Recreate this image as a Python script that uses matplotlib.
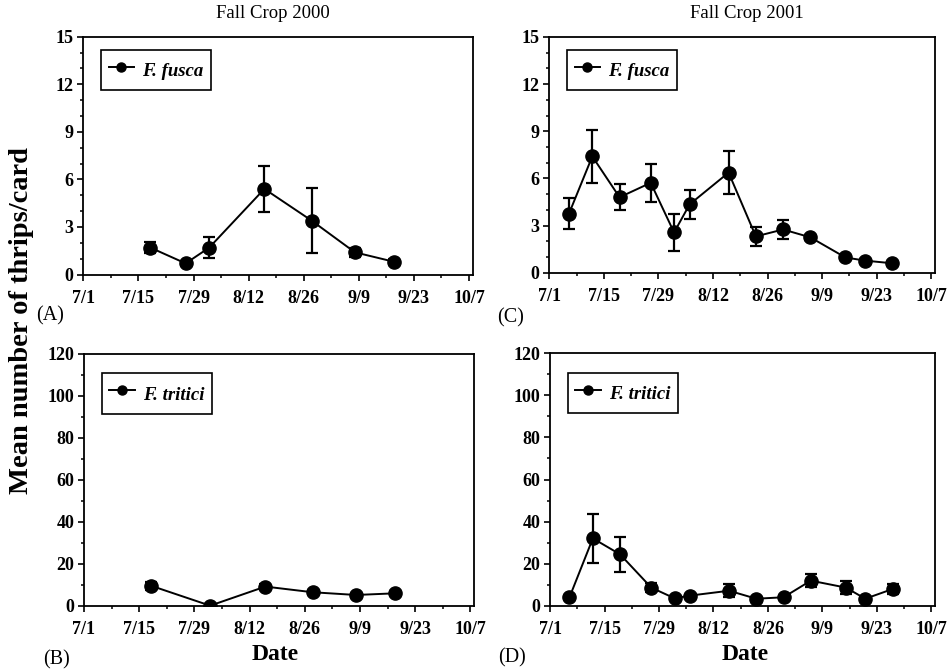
import matplotlib
matplotlib.use("Agg")
import matplotlib.pyplot as plt
import numpy as np
import pandas as pd
from matplotlib.lines import Line2D
from matplotlib.ticker import MultipleLocator

plt.rcParams["font.family"] = ["Liberation Serif", "DejaVu Serif"]

# ---- data ----
dates_2000 = ["7/18", "7/27", "8/2", "8/16", "8/28", "9/8", "9/18"]
fusca_2000 = [1.7, 0.7, 1.7, 5.4, 3.4, 1.4, 0.8]
fusca_2000_se = [0.35, 0.1, 0.65, 1.45, 2.05, 0.3, 0.2]

dates_2000_tr = ["7/18", "8/2", "8/16", "8/28", "9/8", "9/18"]
tritici_2000 = [9.5, 0.0, 9.1, 6.4, 5.1, 5.9]
tritici_2000_se = [2.0, 0.5, 1.0, 1.0, 0.5, 1.0]

dates_2001 = ["7/6", "7/12", "7/19", "7/27", "8/2", "8/6", "8/16",
              "8/23", "8/30", "9/6", "9/15", "9/20", "9/27"]
fusca_2001 = [3.75, 7.4, 4.8, 5.72, 2.56, 4.35, 6.37, 2.31, 2.75, 2.25, 0.97, 0.77, 0.6]
fusca_2001_se = [1.0, 1.68, 0.83, 1.2, 1.18, 0.92, 1.35, 0.6, 0.6, 0.15, 0.1, 0.1, 0.1]
tritici_2001 = [4.0, 32.0, 24.4, 8.6, 3.5, 4.8, 7.1, 3.3, 4.0, 11.9, 8.6, 3.3, 7.9]
tritici_2001_se = [0.5, 11.6, 8.3, 2.0, 0.5, 0.5, 3.0, 0.5, 0.5, 3.0, 3.0, 0.5, 2.5]

tick_labels = ["7/1", "7/15", "7/29", "8/12", "8/26", "9/9", "9/23", "10/7"]


def day_of(labels):
    """Days since 7/1 for 'm/d' strings."""
    d = pd.to_datetime(["2000/" + s for s in labels], format="%Y/%m/%d")
    return (d - pd.Timestamp("2000-07-01")).days.values


def panel(ax, x, y, err, label, ymax, ystep, yminor, leg_y):
    ax.errorbar(x, y, yerr=err, fmt="-o", color="black", lw=1.4, ms=9.5,
                elinewidth=1.6, capsize=4, capthick=1.6)
    ax.set_xlim(0, 99)
    ax.set_ylim(0, ymax)
    ax.set_xticks(np.arange(0, 99, 14))
    ax.set_xticklabels(tick_labels)
    ax.xaxis.set_minor_locator(MultipleLocator(7))
    ax.yaxis.set_major_locator(MultipleLocator(ystep))
    ax.yaxis.set_minor_locator(MultipleLocator(yminor))
    ax.tick_params(which="major", direction="out", length=4, width=1.2,
                   labelsize=13, pad=3)
    ax.tick_params(axis="x", which="major", pad=7)
    ax.tick_params(which="minor", direction="out", length=2.5, width=1.1)
    for lab in ax.get_xticklabels() + ax.get_yticklabels():
        lab.set_fontweight("bold")
    for sp in ax.spines.values():
        sp.set_linewidth(1.3)
    handle = Line2D([], [], color="black", lw=1.4, marker="o", ms=6.5)
    leg = ax.legend([handle], [label], loc="upper left",
                    bbox_to_anchor=(0.046, leg_y), borderaxespad=0,
                    fancybox=False, edgecolor="black", framealpha=1,
                    handlelength=1.35, handleheight=1.7, handletextpad=0.45,
                    borderpad=0.4,
                    prop={"weight": "bold", "style": "italic", "size": 13.5})
    leg.get_frame().set_linewidth(1.2)


fig = plt.figure(figsize=(9.49, 6.72), dpi=100)
axA = fig.add_axes([0.0878, 0.5915, 0.4106, 0.3539])
axC = fig.add_axes([0.5790, 0.5942, 0.4062, 0.3508])
axB = fig.add_axes([0.0885, 0.0987, 0.4113, 0.3746])
axD = fig.add_axes([0.5796, 0.0987, 0.4060, 0.3755])

panel(axA, day_of(dates_2000), fusca_2000, fusca_2000_se, "F. fusca", 15, 3, 1, 0.945)
panel(axC, day_of(dates_2001), fusca_2001, fusca_2001_se, "F. fusca", 15, 3, 1, 0.945)
panel(axB, day_of(dates_2000_tr), tritici_2000, tritici_2000_se, "F. tritici", 120, 20, 10, 0.923)
panel(axD, day_of(dates_2001), tritici_2001, tritici_2001_se, "F. tritici", 120, 20, 10, 0.923)

fig.text(273 / 949, 1 - 13 / 672, "Fall Crop 2000", ha="center", va="center", fontsize=13.5)
fig.text(747 / 949, 1 - 13 / 672, "Fall Crop 2001", ha="center", va="center", fontsize=13.5)

for txt, x, y in [("(A)", 50, 316), ("(C)", 511, 318), ("(B)", 57, 660), ("(D)", 512, 658)]:
    fig.text(x / 949, 1 - y / 672, txt, ha="center", va="center", fontsize=14.5)

fig.text(275 / 949, 1 - 655 / 672, "Date", ha="center", va="center",
         fontsize=17, fontweight="bold")
fig.text(745 / 949, 1 - 655 / 672, "Date", ha="center", va="center",
         fontsize=17, fontweight="bold")
fig.text(22 / 949, 1 - 320 / 672, "Mean number of thrips/card", rotation=90,
         ha="center", va="center", fontsize=20.5, fontweight="bold")

fig.savefig("out.png", dpi=100)
